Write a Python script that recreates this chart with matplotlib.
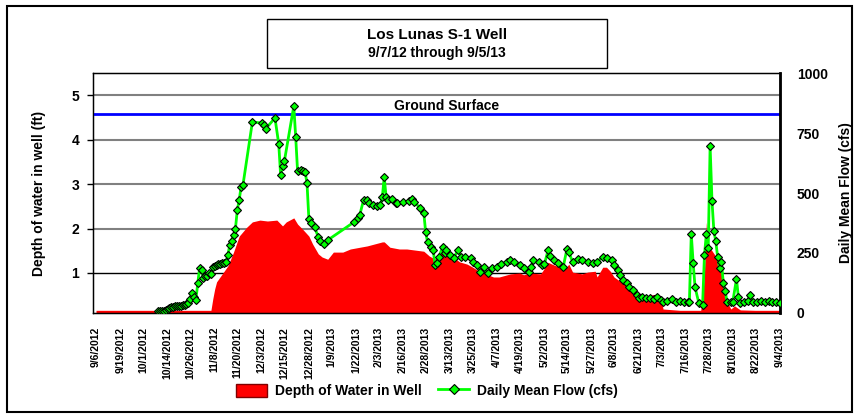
import numpy as np
import pandas as pd
import matplotlib
matplotlib.use("Agg")
import matplotlib.pyplot as plt
import matplotlib.dates as mdates
from matplotlib.patches import Patch, Rectangle
from matplotlib.lines import Line2D

plt.rcParams['font.family'] = ['Liberation Sans', 'DejaVu Sans']
plt.rcParams['font.weight'] = 'bold'

# ---------------- data ----------------
start_date = "2012-09-06"

title = "Los Lunas S-1 Well"
subtitle = "9/7/12 through 9/5/13"
ground_surface = 4.57

tick_labels = ["9/6/2012", "9/19/2012", "10/1/2012", "10/14/2012", "10/26/2012", "11/8/2012",
               "11/20/2012", "12/3/2012", "12/15/2012", "12/28/2012", "1/9/2013", "1/22/2013",
               "2/3/2013", "2/16/2013", "2/28/2013", "3/13/2013", "3/25/2013", "4/7/2013",
               "4/19/2013", "5/2/2013", "5/14/2013", "5/27/2013", "6/8/2013", "6/21/2013",
               "7/3/2013", "7/16/2013", "7/28/2013", "8/10/2013", "8/22/2013", "9/4/2013"]

# depth of water in well (ft), day offset from start_date
depth_day = [0, 20, 40, 61, 62, 63, 64, 67, 70, 73, 76, 80, 83, 87, 91, 96, 99, 101, 105, 107,
             110, 113, 115, 118, 120, 123, 126, 131, 135, 144, 152, 153, 156, 161, 165, 174, 177,
             180, 183, 185, 187, 189, 193, 197, 200, 204, 208, 211, 214, 220, 225, 227, 230, 236,
             237, 240, 242, 246, 248, 251, 253, 258, 261, 265, 266, 269, 271, 273, 275, 278, 282,
             285, 288, 289, 292, 298, 300, 301, 310, 321, 322, 323, 324, 325, 327, 330, 331, 333,
             334, 335, 337, 339, 342, 350, 363]
depth_ft = [0.16, 0.16, 0.16, 0.16, 0.42, 0.64, 0.80, 0.98, 1.16, 1.47, 1.83, 2.03, 2.15, 2.19,
            2.17, 2.19, 2.06, 2.15, 2.24, 2.10, 1.97, 1.83, 1.65, 1.43, 1.36, 1.31, 1.47, 1.47,
            1.54, 1.61, 1.70, 1.70, 1.58, 1.54, 1.54, 1.49, 1.38, 1.31, 1.54, 1.61, 1.54, 1.38,
            1.25, 1.20, 1.13, 1.02, 0.96, 0.91, 0.91, 0.98, 1.00, 0.96, 1.00, 0.98, 1.04, 1.24,
            1.20, 1.13, 1.04, 1.20, 1.02, 0.98, 1.02, 1.04, 0.91, 1.13, 1.13, 1.04, 0.91, 0.82,
            0.69, 0.57, 0.46, 0.48, 0.48, 0.53, 0.42, 0.19, 0.16, 0.16, 0.40, 1.02, 2.14, 1.61,
            1.50, 1.31, 1.09, 0.93, 0.64, 0.35, 0.19, 0.26, 0.17, 0.16, 0.16]

# daily mean flow (cfs), day offset from start_date
flow_day = [33, 34, 35, 36, 37, 38, 39, 40, 41, 42, 43, 44, 45, 46, 47, 48, 49, 50, 51, 52, 53,
            54, 55, 56, 57, 58, 59, 60, 61, 62, 63, 64, 65, 66, 67, 68, 69, 70, 71, 72, 73, 74,
            75, 76, 77, 78, 83, 88, 89, 90, 95, 97, 98, 99, 100, 105, 106, 107, 109, 110, 111,
            112, 113, 114, 116, 118, 119, 121, 123, 137, 139, 140, 142, 144, 145, 147, 149, 151,
            152, 153, 154, 155, 157, 159, 160, 163, 166, 168, 169, 172, 174, 175, 176, 178, 179,
            180, 181, 182, 184, 185, 186, 188, 190, 192, 194, 196, 199, 200, 202, 204, 206, 208,
            210, 213, 215, 218, 220, 222, 225, 227, 230, 231, 232, 235, 237, 238, 240, 241, 243,
            245, 248, 250, 251, 253, 256, 258, 261, 264, 266, 269, 271, 274, 275, 277, 278, 280,
            282, 283, 285, 287, 288, 290, 292, 294, 296, 298, 300, 301, 303, 306, 308, 310, 312,
            314, 315, 316, 317, 318, 320, 322, 323, 324, 325, 326, 327, 328, 329, 330, 331, 332,
            333, 334, 335, 337, 338, 340, 341, 342, 344, 346, 347, 349, 351, 353, 355, 357, 359,
            361, 363]
flow_cfs = [4, 4, 6, 4, 8, 12, 16, 20, 22, 25, 25, 27, 25, 29, 30, 34, 37, 55, 80, 63, 50,
            120, 185, 175, 145, 150, 150, 164, 160, 190, 195, 197, 200, 200, 205, 205, 210, 240,
            281, 300, 323, 349, 428, 470, 525, 533, 798, 794, 787, 769, 815, 706, 575, 613, 634,
            865, 735, 592, 596, 592, 588, 542, 391, 374, 357, 315, 298, 286, 302, 378, 395, 407,
            470, 470, 458, 449, 445, 449, 483, 567, 483, 470, 475, 458, 458, 462, 466, 475, 462,
            437, 416, 336, 294, 273, 260, 197, 206, 231, 273, 248, 260, 239, 227, 260, 231, 231,
            227, 210, 197, 168, 189, 164, 185, 189, 202, 210, 218, 210, 197, 185, 168, 189, 218,
            210, 197, 200, 260, 235, 218, 206, 189, 265, 252, 210, 223, 218, 210, 206, 212, 231,
            227, 218, 197, 176, 155, 134, 122, 105, 92, 71, 59, 63, 59, 59, 55, 63, 50, 42, 46,
            55, 42, 46, 42, 42, 42, 328, 206, 105, 38, 29, 239, 328, 269, 697, 466, 340, 298,
            231, 185, 210, 122, 88, 42, 42, 42, 139, 63, 38, 42, 46, 71, 42, 42, 46, 42, 46, 42,
            42, 38]

# ---------------- plot ----------------
t0 = np.datetime64(start_date)
d_dates = t0 + np.array(depth_day).astype('timedelta64[D]')
f_dates = t0 + np.array(flow_day).astype('timedelta64[D]')
tick_pos = pd.to_datetime(tick_labels, format="%m/%d/%Y")

fig = plt.figure(figsize=(8.58, 4.19), dpi=100)
fig.patch.set_facecolor('white')

# outer border
fig.add_artist(Rectangle((7 / 858, 1 - 412 / 419), 845 / 858, 406 / 419, transform=fig.transFigure,
                         fill=False, edgecolor='black', linewidth=1.5))

ax = fig.add_axes([93 / 858, 1 - 313 / 419, 687 / 858, 240 / 419])
ax.set_ylim(0.1, 5.5)
ax.set_xlim(mdates.date2num(t0) - 1.6, mdates.date2num(t0) + 363.1)

# gridlines
for v in [2, 3, 4, 5]:
    ax.axhline(v, color='#808080', linewidth=1.5, zorder=1)
ax.axhline(1, color='black', linewidth=1.0, zorder=1)

ax.fill_between(d_dates, 0, depth_ft, color='#FF0000', linewidth=0, zorder=2)
ax.axhline(ground_surface, color='#0000FF', linewidth=2, zorder=3)
ax.text(0.515, 4.75, "Ground Surface", transform=ax.get_yaxis_transform(), ha='center',
        va='center', fontsize=10, fontweight='bold')

ax.set_yticks([1, 2, 3, 4, 5])
ax.set_yticklabels(['1', '2', '3', '4', '5'], fontsize=10, fontweight='bold')
ax.tick_params(axis='y', length=4, width=1, pad=6, direction='out')
ax.set_xticks(tick_pos)
ax.set_xticklabels(tick_labels, rotation=90, fontsize=7.5, fontweight='bold', va='top', ha='center')
ax.tick_params(axis='x', length=0, pad=10)
ax.set_ylabel("Depth of water in well (ft)", fontsize=10, fontweight='bold', labelpad=18)
for s in ax.spines.values():
    s.set_color('black')
    s.set_linewidth(1)

ax2 = ax.twinx()
ax2.set_ylim(-4, 1004)
ax2.plot(f_dates, flow_cfs, color='#00FF00', linewidth=2, marker='D', markersize=4.5,
         markerfacecolor='#00FF00', markeredgecolor='black', markeredgewidth=0.8, zorder=5)
ax2.set_yticks([0, 250, 500, 750, 1000])
ax2.set_yticklabels(['0', '250', '500', '750', '1000'], fontsize=10, fontweight='bold')
ax2.tick_params(axis='y', length=0, pad=12)
ax2.set_ylabel("Daily Mean Flow (cfs)", fontsize=10, fontweight='bold', labelpad=8)
ax2.spines['right'].set_linewidth(2)
ax2.set_xlim(ax.get_xlim())

# title box
fig.add_artist(Rectangle((267 / 858, 1 - 68 / 419), 340 / 858, 49 / 419, transform=fig.transFigure,
                         facecolor='white', edgecolor='black', linewidth=1))
fig.text(437 / 858, 1 - 35 / 419, title, ha='center', va='center', fontsize=11, fontweight='bold')
fig.text(437 / 858, 1 - 53 / 419, subtitle, ha='center', va='center', fontsize=10, fontweight='bold')

handles = [Patch(facecolor='#FF0000', edgecolor='#800000', linewidth=1),
           Line2D([0], [0], color='#00FF00', linewidth=2, marker='D', markersize=5,
                  markerfacecolor='#00FF00', markeredgecolor='black', markeredgewidth=0.8)]
fig.legend(handles, ["Depth of Water in Well", "Daily Mean Flow (cfs)"], ncol=2, frameon=False,
           loc='center', bbox_to_anchor=(427 / 858, 1 - 391 / 419), prop={'size': 10, 'weight': 'bold'},
           handlelength=2.2, handleheight=1.1, columnspacing=1.2, handletextpad=0.6)

fig.savefig("out.png", dpi=100)
